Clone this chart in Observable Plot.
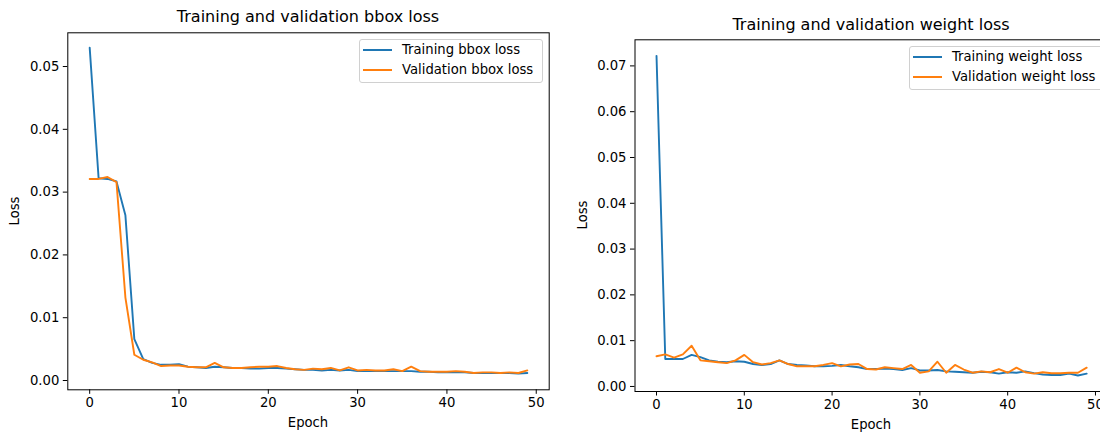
<!DOCTYPE html>
<html>
<head>
<meta charset="utf-8">
<script src="https://cdn.jsdelivr.net/npm/d3@7"></script>
<script src="https://cdn.jsdelivr.net/npm/@observablehq/plot@0.6"></script>
<style>
  html, body { margin: 0; padding: 0; background: #fff; }
  #wrap { position: relative; width: 1100px; height: 434px; overflow: hidden; font-family: "DejaVu Sans", sans-serif; color: #000; }
  .chart { position: absolute; top: 0; }
  .title { position: absolute; font-size: 16px; line-height: 1; white-space: nowrap; transform: translate(-50%, -50%); }
  .lab { position: absolute; font-size: 13.2px; line-height: 1; white-space: nowrap; transform: translate(-50%, -50%); }
  .ylab { position: absolute; font-size: 13.2px; line-height: 1; white-space: nowrap; transform: translate(-50%, -50%) rotate(-90deg); }
  .legend { position: absolute; background: rgba(255,255,255,0.8); border: 1.2px solid #d0d0d0; border-radius: 3px; box-sizing: border-box; font-size: 13.2px; }
  .legend .row { position: absolute; white-space: nowrap; line-height: 1; }
  .legend .sw { position: absolute; height: 2px; }
</style>
</head>
<body>
<div id="wrap"></div>
<script>
// ---- data ----
const epochs = d3.range(50);
const bboxTrain = [0.0530, 0.0322, 0.0321, 0.0317, 0.0263, 0.0066, 0.0034, 0.0028, 0.0025, 0.0025,
  0.0026, 0.0022, 0.0021, 0.0020, 0.0022, 0.0021, 0.0020, 0.0020, 0.0019, 0.0019,
  0.0020, 0.0020, 0.0019, 0.0018, 0.0017, 0.0017, 0.0016, 0.0017, 0.0016, 0.0017,
  0.0015, 0.0015, 0.0015, 0.0015, 0.0015, 0.0015, 0.0015, 0.0014, 0.0014, 0.0013,
  0.0013, 0.0013, 0.0013, 0.0012, 0.0012, 0.0012, 0.0012, 0.0012, 0.0011, 0.0012];
const bboxVal = [0.0321, 0.0321, 0.0324, 0.0316, 0.0132, 0.0041, 0.0033, 0.0029, 0.0023, 0.0024,
  0.0024, 0.0022, 0.0021, 0.0021, 0.0028, 0.0021, 0.0020, 0.0020, 0.0021, 0.0022,
  0.0022, 0.0023, 0.0020, 0.0018, 0.0017, 0.0019, 0.0018, 0.0020, 0.0016, 0.0021,
  0.0016, 0.0017, 0.0016, 0.0016, 0.0018, 0.0015, 0.0022, 0.0015, 0.0014, 0.0014,
  0.0014, 0.0015, 0.0014, 0.0012, 0.0013, 0.0013, 0.0012, 0.0013, 0.0012, 0.0016];
const weightTrain = [0.0722, 0.0060, 0.0060, 0.0060, 0.0069, 0.0064, 0.0057, 0.0054, 0.0053, 0.0055,
  0.0054, 0.0049, 0.0047, 0.0049, 0.0057, 0.0049, 0.0047, 0.0046, 0.0044, 0.0044,
  0.0045, 0.0047, 0.0044, 0.0042, 0.0038, 0.0038, 0.0039, 0.0038, 0.0036, 0.0040,
  0.0035, 0.0035, 0.0036, 0.0033, 0.0032, 0.0031, 0.0030, 0.0032, 0.0031, 0.0028,
  0.0031, 0.0030, 0.0033, 0.0029, 0.0026, 0.0025, 0.0025, 0.0028, 0.0024, 0.0028];
const weightVal = [0.0066, 0.0070, 0.0063, 0.0070, 0.0089, 0.0057, 0.0055, 0.0053, 0.0051, 0.0057,
  0.0069, 0.0053, 0.0048, 0.0051, 0.0057, 0.0049, 0.0044, 0.0044, 0.0044, 0.0047,
  0.0051, 0.0044, 0.0048, 0.0049, 0.0038, 0.0037, 0.0042, 0.0040, 0.0038, 0.0047,
  0.0030, 0.0033, 0.0054, 0.0030, 0.0047, 0.0037, 0.0030, 0.0033, 0.0031, 0.0038,
  0.0030, 0.0041, 0.0031, 0.0028, 0.0031, 0.0029, 0.0029, 0.0030, 0.0030, 0.0041];
const xTicks = [0, 10, 20, 30, 40, 50];
const bboxYTicks = [0, 0.01, 0.02, 0.03, 0.04, 0.05];
const weightYTicks = [0, 0.01, 0.02, 0.03, 0.04, 0.05, 0.06, 0.07];
const titles = ["Training and validation bbox loss", "Training and validation weight loss"];
const legendLabels = [["Training bbox loss", "Validation bbox loss"], ["Training weight loss", "Validation weight loss"]];
const xLabel = "Epoch", yLabel = "Loss";
const colors = ["#1f77b4", "#ff7f0e"];

const wrap = document.getElementById("wrap");

function makeChart(train, val, yTicks, cfg) {
  const chart = Plot.plot({
    width: cfg.width, height: 434,
    marginLeft: cfg.ml, marginRight: cfg.mr, marginTop: cfg.mt, marginBottom: cfg.mb,
    x: {domain: [-2.45, 51.45]},
    y: {domain: cfg.yDomain},
    style: {fontFamily: "DejaVu Sans", fontSize: "13.2px", color: "#000", background: "transparent", overflow: "visible"},
    marks: [
      Plot.line(train, {x: (d, i) => epochs[i], y: d => d, stroke: colors[0], strokeWidth: 1.9}),
      Plot.line(val, {x: (d, i) => epochs[i], y: d => d, stroke: colors[1], strokeWidth: 1.9}),
      Plot.frame({stroke: "#000", strokeWidth: 1}),
      Plot.axisX({ticks: xTicks, tickFormat: d => String(d), tickSize: 4.5, tickPadding: 3.5, label: null, fontSize: 13.2}),
      Plot.axisY({ticks: yTicks, tickFormat: d3.format(".2f"), tickSize: 4.5, tickPadding: 4, label: null, fontSize: 13.2})
    ]
  });
  chart.classList.add("chart");
  chart.style.left = cfg.left + "px";
  wrap.appendChild(chart);
}

function addText(cls, text, x, y) {
  const d = document.createElement("div");
  d.className = cls;
  d.textContent = text;
  d.style.left = x + "px";
  d.style.top = y + "px";
  wrap.appendChild(d);
}

function addLegend(labels, box) {
  const lg = document.createElement("div");
  lg.className = "legend";
  lg.style.left = box.x + "px"; lg.style.top = box.y + "px";
  lg.style.width = box.w + "px"; lg.style.height = box.h + "px";
  labels.forEach((t, i) => {
    const sw = document.createElement("div");
    sw.className = "sw";
    sw.style.background = colors[i];
    sw.style.left = "3px"; sw.style.width = "29px";
    sw.style.top = (9.3 + i * 20) + "px";
    lg.appendChild(sw);
    const r = document.createElement("div");
    r.className = "row";
    r.textContent = t;
    r.style.left = "42px";
    r.style.top = (3.3 + i * 20) + "px";
    lg.appendChild(r);
  });
  wrap.appendChild(lg);
}

makeChart(bboxTrain, bboxVal, bboxYTicks, {left: 0, width: 560, ml: 67.3, mr: 11.3, mt: 32.3, mb: 44.7, yDomain: [-0.00148, 0.05537]});
makeChart(weightTrain, weightVal, weightYTicks, {left: 560, width: 560, ml: 74.5, mr: 12.3, mt: 39.3, mb: 43, yDomain: [-0.0011, 0.0757]});

addText("title", titles[0], 308, 17);
addText("title", titles[1], 871, 25);
addText("lab", xLabel, 308, 423);
addText("lab", xLabel, 871, 425);
addText("ylab", yLabel, 15, 211);
addText("ylab", yLabel, 583, 215);
addLegend(legendLabels[0], {x: 359, y: 39, w: 184, h: 44});
addLegend(legendLabels[1], {x: 909, y: 46, w: 200, h: 44});
</script>
</body>
</html>
